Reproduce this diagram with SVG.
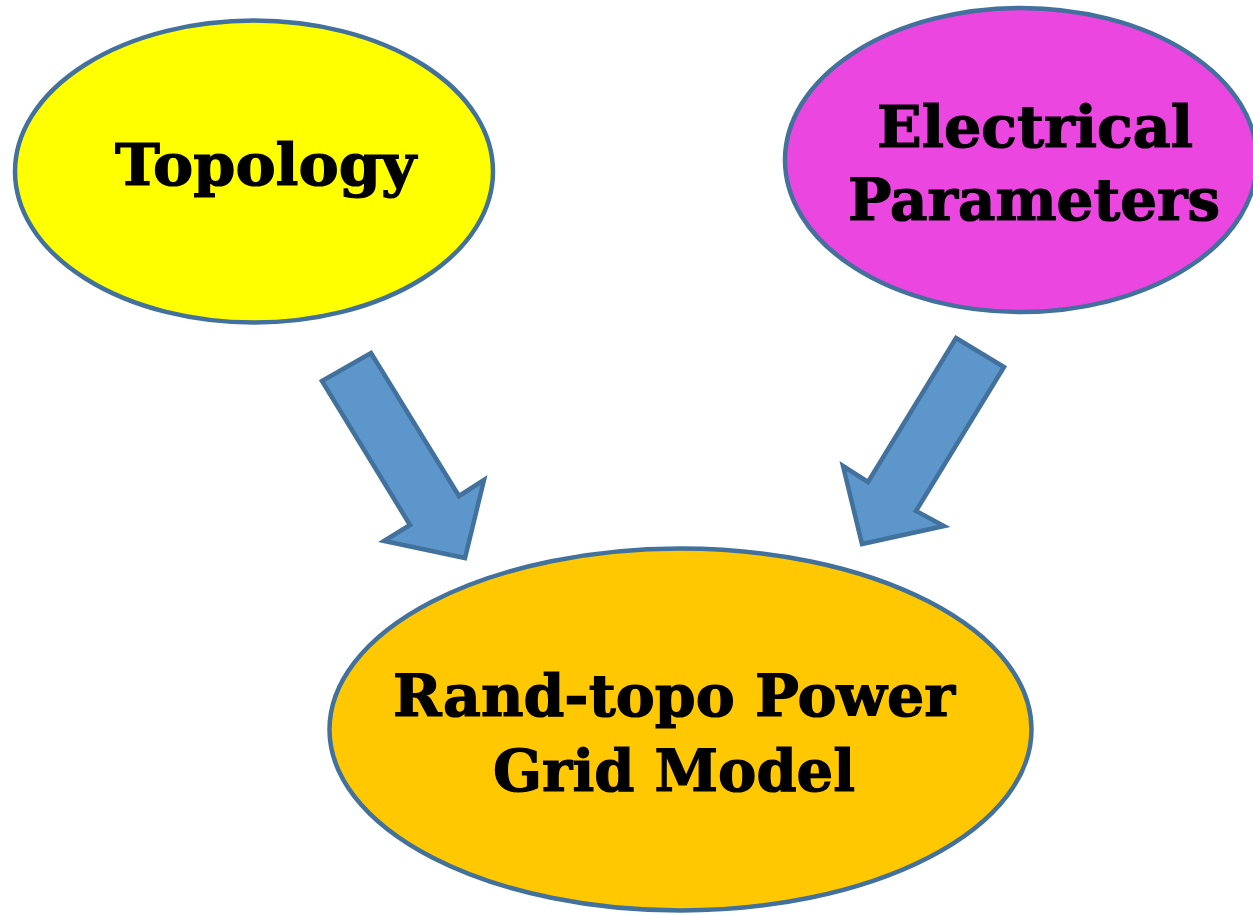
<svg xmlns="http://www.w3.org/2000/svg" width="1253" height="915" viewBox="0 0 1253 915">
<style>
.node { stroke: #41719C; stroke-width: 4.5; }
.lbl { font-family: "DejaVu Serif", "Liberation Serif", serif; font-weight: bold; font-size: 57px; fill: #000; stroke: #000; stroke-width: 1.2; }
.arrow { fill: #5D96CA; stroke: #41719C; stroke-width: 4.5; stroke-linejoin: miter; }
</style>
<rect width="1253" height="915" fill="#ffffff"/>
<g id="topology">
<ellipse class="node" cx="254" cy="171.5" rx="239" ry="151" fill="#FFFF00"/>
<text class="lbl" x="115" y="185" textLength="301" lengthAdjust="spacingAndGlyphs">Topology</text>
</g>
<g id="electrical-parameters">
<ellipse class="node" cx="1021" cy="160" rx="236" ry="152" fill="#EB46E0"/>
<text class="lbl" x="877" y="147" textLength="316" lengthAdjust="spacingAndGlyphs">Electrical</text>
<text class="lbl" x="848" y="220" textLength="372" lengthAdjust="spacingAndGlyphs">Parameters</text>
</g>
<g id="rand-topo-model">
<ellipse class="node" cx="680.5" cy="729.5" rx="351" ry="181" fill="#FFC800"/>
<text class="lbl" x="393" y="716" textLength="562" lengthAdjust="spacingAndGlyphs">Rand-topo Power</text>
<text class="lbl" x="493" y="791" textLength="362" lengthAdjust="spacingAndGlyphs">Grid Model</text>
</g>
<g id="connectors">
<polygon class="arrow" points="322,381 371,353 459,496 484,480 465,558 384,541 410,525"/>
<polygon class="arrow" points="956,338 1004,367 916,511 944,526 862,544 843,466 868,482"/>
</g>
</svg>
